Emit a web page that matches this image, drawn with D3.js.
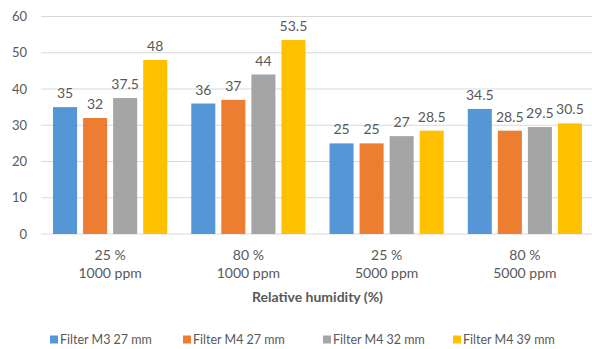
<!DOCTYPE html>
<html>
<head>
<meta charset="utf-8">
<script src="https://cdn.jsdelivr.net/npm/d3@7"></script>
<style>
  html, body { margin: 0; padding: 0; background: #fff; }
  svg { display: block; font-family: Lato, "Open Sans", sans-serif; }
</style>
</head>
<body>
<svg id="chart" width="592" height="349"></svg>
<script>
// Categories (relative humidity / concentration)
const categories = [["25 %", "1000 ppm"], ["80 %", "1000 ppm"], ["25 %", "5000 ppm"], ["80 %", "5000 ppm"]];
const seriesNames = ["Filter M3 27 mm", "Filter M4 27 mm", "Filter M4 32 mm", "Filter M4 39 mm"];
const seriesColors = ["#5596D6", "#ED7D31", "#A5A5A5", "#FFC000"];
// One array per series, one value per category
const m3_27 = [35, 36, 25, 34.5];
const m4_27 = [32, 37, 25, 28.5];
const m4_32 = [37.5, 44, 27, 29.5];
const m4_39 = [48, 53.5, 28.5, 30.5];
const yTicks = [0, 10, 20, 30, 40, 50, 60];

const series = [m3_27, m4_27, m4_32, m4_39];
const svg = d3.select("#chart");

const plotLeft = 41, plotRight = 594, plotTop = 16.5, plotBottom = 234;
const x0 = d3.scaleBand().domain(d3.range(categories.length)).range([plotLeft, plotRight]);
const x1 = d3.scaleBand().domain(d3.range(series.length)).range([0, x0.bandwidth()])
  .paddingInner(0.2).paddingOuter(0.4);
const y = d3.scaleLinear().domain([0, 60]).range([plotBottom, plotTop]);

// Gridlines
svg.append("g").selectAll("line").data(yTicks).join("line")
  .attr("x1", plotLeft).attr("x2", plotRight)
  .attr("y1", d => y(d)).attr("y2", d => y(d))
  .attr("stroke", "#d9d9d9").attr("stroke-width", 1);

// Y tick labels
svg.append("g").selectAll("text").data(yTicks).join("text")
  .attr("x", 27).attr("y", d => y(d)).attr("dy", "0.35em")
  .attr("text-anchor", "end").attr("fill", "#595959").attr("font-size", 13)
  .text(d => d);

// Bars and value labels
const groups = svg.append("g").selectAll("g").data(categories).join("g")
  .attr("transform", (d, i) => `translate(${x0(i)},0)`);

groups.each(function(c, ci) {
  const g = d3.select(this);
  series.forEach((s, si) => {
    g.append("rect")
      .attr("x", x1(si)).attr("width", x1.bandwidth())
      .attr("y", y(s[ci])).attr("height", y(0) - y(s[ci]))
      .attr("fill", seriesColors[si]);
    g.append("text")
      .attr("x", x1(si) + x1.bandwidth() / 2).attr("y", y(s[ci]) - 9)
      .attr("text-anchor", "middle").attr("fill", "#595959").attr("font-size", 14)
      .text(s[ci]);
  });
});

// Category labels
const catLabels = svg.append("g").selectAll("text").data(categories).join("text")
  .attr("text-anchor", "middle").attr("fill", "#595959").attr("font-size", 14)
  .attr("transform", (d, i) => `translate(${x0(i) + x0.bandwidth() / 2},0)`);
catLabels.append("tspan").attr("x", 0).attr("y", 260).text(d => d[0]);
catLabels.append("tspan").attr("x", 0).attr("y", 278).text(d => d[1]);

// Axis title
svg.append("text")
  .attr("x", (plotLeft + plotRight) / 2).attr("y", 302)
  .attr("text-anchor", "middle").attr("fill", "#595959")
  .attr("font-size", 14).attr("font-weight", "bold")
  .text("Relative humidity (%)");

// Legend
const legendX = [50, 183, 323, 453];
const legend = svg.append("g").selectAll("g").data(seriesNames).join("g")
  .attr("transform", (d, i) => `translate(${legendX[i]},340)`);
legend.append("rect").attr("x", 0).attr("y", -4.5).attr("width", 8).attr("height", 8)
  .attr("fill", (d, i) => seriesColors[i]);
legend.append("text").attr("x", 10).attr("dy", "0.35em")
  .attr("fill", "#595959").attr("font-size", 12.5).text(d => d);
</script>
</body>
</html>
